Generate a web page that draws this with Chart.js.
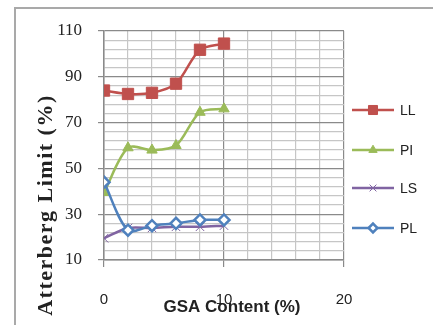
<!DOCTYPE html>
<html>
<head>
<meta charset="utf-8">
<script src="https://cdn.jsdelivr.net/npm/chart.js@4"></script>
<style>
  body { margin: 0; background: #fff; }
  #wrap { position: relative; width: 433px; height: 325px; overflow: hidden; }
  #frame { position: absolute; left: 14px; top: 7px; width: 500px; height: 400px;
           border-top: 2px solid #a9a9a9; border-left: 2px solid #a9a9a9; }
  canvas { position: absolute; left: 0; top: 0; }
</style>
</head>
<body>
<div id="wrap">
  <div id="frame"></div>
  <canvas id="chart" width="433" height="325"></canvas>
</div>
<script>
// values
const gsaContent = [0, 2, 4, 6, 8, 10];
const llValues = [84, 82.5, 83, 87, 101.8, 104.5];
const piValues = [39.5, 59, 58, 60, 74.5, 76];
const lsValues = [19.5, 24, 24, 24.5, 24.5, 25];
const plValues = [44, 23, 25, 26, 27.5, 27.5];
const seriesNames = ["LL", "PI", "LS", "PL"];
const xTickLabels = [0, 10, 20];
const yTickLabels = [10, 30, 50, 70, 90, 110];

const colors = ["#c0504d", "#9bbb59", "#8064a2", "#4f81bd"];
const minorGrid = "#c6c6c6";
const majorGrid = "#8a8a8a";

function toPoints(vals) {
  return vals.map((v, i) => ({ x: gsaContent[i], y: v }));
}

const styles = [
  { pointStyle: "rect", pointRadius: 8, bg: colors[0], borderW: 1 },
  { pointStyle: "triangle", pointRadius: 6, bg: colors[1], borderW: 1 },
  { pointStyle: "crossRot", pointRadius: 6, bg: colors[2], borderW: 1 },
  { pointStyle: "rectRot", pointRadius: 5.5, bg: "#ffffff", borderW: 2.5 }
];
const allValues = [llValues, piValues, lsValues, plValues];

const datasets = seriesNames.map((name, i) => ({
  label: name,
  data: toPoints(allValues[i]),
  borderColor: colors[i],
  backgroundColor: colors[i],
  borderWidth: 2.5,
  tension: 0.3,
  pointStyle: styles[i].pointStyle,
  pointRadius: styles[i].pointRadius,
  pointBackgroundColor: styles[i].bg,
  pointBorderColor: colors[i],
  pointBorderWidth: styles[i].borderW,
  order: 3 - i
}));

// legend and axis titles at their places
const extras = {
  id: "extras",
  afterDraw(chart) {
    const ctx = chart.ctx;
    ctx.save();
    const legendY = [110, 150, 188, 228];
    datasets.forEach((ds, i) => {
      const y = legendY[i];
      ctx.strokeStyle = ds.borderColor;
      ctx.lineWidth = 2.5;
      ctx.beginPath();
      ctx.moveTo(352, y);
      ctx.lineTo(394, y);
      ctx.stroke();
      ctx.fillStyle = ds.pointBackgroundColor;
      ctx.strokeStyle = ds.pointBorderColor;
      ctx.lineWidth = ds.pointBorderWidth;
      Chart.helpers.drawPoint(ctx, {
        pointStyle: ds.pointStyle,
        radius: ds.pointRadius * 0.8,
        rotation: 0,
        borderWidth: ds.pointBorderWidth
      }, 373, y);
      ctx.fillStyle = "#222";
      ctx.font = '14px "Liberation Sans"';
      ctx.textAlign = "left";
      ctx.textBaseline = "middle";
      ctx.fillText(ds.label, 400, y + 1);
    });

    ctx.fillStyle = "#222";
    ctx.font = 'bold 17px "Liberation Sans"';
    ctx.textAlign = "center";
    ctx.textBaseline = "middle";
    ctx.fillText("GSA Content (%)", 232, 307);

    ctx.translate(46, 205);
    ctx.rotate(-Math.PI / 2);
    ctx.font = 'bold 22px "Liberation Serif"';
    ctx.letterSpacing = "1.5px";
    ctx.fillText("Atterberg Limit (%)", 0, 0);
    ctx.restore();
  }
};

new Chart(document.getElementById("chart"), {
  type: "line",
  data: { datasets: datasets },
  plugins: [extras],
  options: {
    responsive: false,
    animation: false,
    layout: { padding: { top: 31, right: 89, left: 0, bottom: 0 } },
    plugins: { legend: { display: false }, tooltip: { enabled: false } },
    scales: {
      x: {
        type: "linear",
        min: 0,
        max: 20,
        afterFit: s => { s.height = 65; },
        border: { color: majorGrid, width: 1.5 },
        grid: {
          color: c => (c.tick && c.tick.value % 10 === 0 ? majorGrid : minorGrid),
          tickColor: c => (c.tick && xTickLabels.includes(c.tick.value) ? majorGrid : "rgba(0,0,0,0)"),
          tickLength: 7,
          lineWidth: 1.2
        },
        ticks: {
          stepSize: 2,
          padding: 24,
          maxRotation: 0,
          autoSkip: false,
          color: "#222",
          font: { family: "Liberation Sans", size: 15 },
          callback: v => (xTickLabels.includes(v) ? String(v) : "")
        }
      },
      y: {
        min: 10,
        max: 110,
        afterFit: s => { s.width = 104; },
        border: { color: majorGrid, width: 1.5 },
        grid: {
          color: c => (c.tick && yTickLabels.includes(c.tick.value) ? majorGrid : minorGrid),
          tickColor: c => (c.tick && yTickLabels.includes(c.tick.value) ? majorGrid : "rgba(0,0,0,0)"),
          tickLength: 6,
          lineWidth: 1.2
        },
        ticks: {
          stepSize: 4,
          padding: 16,
          autoSkip: false,
          color: "#222",
          font: { family: "Liberation Serif", size: 17 },
          callback: v => (yTickLabels.includes(v) ? String(v) : "")
        }
      }
    }
  }
});
</script>
</body>
</html>
